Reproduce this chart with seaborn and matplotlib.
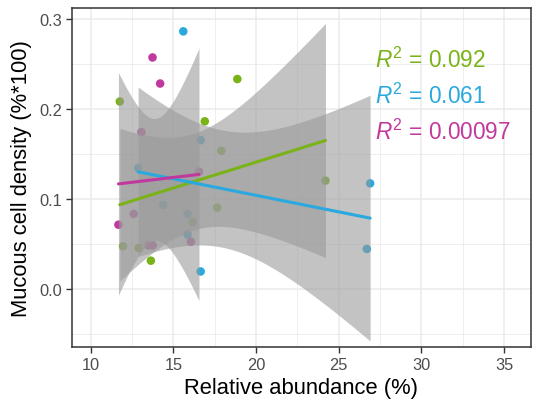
import numpy as np
import pandas as pd
import matplotlib
matplotlib.use("Agg")
import matplotlib.pyplot as plt
import seaborn as sns
from matplotlib.ticker import MultipleLocator

# ---- data ----
green_x = [11.76, 11.96, 12.9, 13.64, 16.16, 16.9, 17.65, 17.9, 18.87, 24.2]
green_y = [0.208, 0.047, 0.045, 0.031, 0.074, 0.186, 0.090, 0.153, 0.233, 0.120]
blue_x = [12.87, 14.38, 15.6, 15.86, 15.86, 16.65, 16.65, 26.7, 26.9]
blue_y = [0.134, 0.093, 0.286, 0.083, 0.060, 0.165, 0.019, 0.044, 0.117]
magenta_x = [11.68, 12.6, 13.07, 13.5, 13.75, 13.74, 14.2, 16.06, 16.55]
magenta_y = [0.071, 0.083, 0.174, 0.048, 0.048, 0.257, 0.228, 0.052, 0.130]
groups = ["green", "blue", "magenta"]
r2_labels = ["0.092", "0.061", "0.00097"]
x_ticks = [10, 15, 20, 25, 30, 35]
y_ticks = [0.0, 0.1, 0.2, 0.3]
x_title = "Relative abundance (%)"
y_title = "Mucous cell density (%*100)"

colors = {"green": "#7AB317", "blue": "#29A9DD", "magenta": "#C1399D"}
t975 = {7: 2.3646, 8: 2.3060}

df = pd.concat([
    pd.DataFrame({"x": green_x, "y": green_y, "g": "green"}),
    pd.DataFrame({"x": blue_x, "y": blue_y, "g": "blue"}),
    pd.DataFrame({"x": magenta_x, "y": magenta_y, "g": "magenta"}),
], ignore_index=True)

sns.set_theme(style="white")
plt.rcParams["font.family"] = ["Liberation Sans", "DejaVu Sans"]
plt.rcParams["mathtext.fontset"] = "custom"
plt.rcParams["mathtext.rm"] = "Liberation Sans"
plt.rcParams["mathtext.it"] = "Liberation Sans:italic"

fig = plt.figure(figsize=(5.33, 4.10), dpi=100)
ax = fig.add_axes([72 / 533, 1 - 348 / 410, (531 - 72) / 533, (348 - 9) / 410])

sns.scatterplot(data=df, x="x", y="y", hue="g", palette=colors, s=38,
                edgecolor="none", legend=False, ax=ax, zorder=2)

for g in groups:
    sub = df[df.g == g]
    x = sub.x.to_numpy(); y = sub.y.to_numpy(); n = len(x)
    b1, b0 = np.polyfit(x, y, 1)
    res = y - (b0 + b1 * x)
    s = np.sqrt((res ** 2).sum() / (n - 2))
    xs = np.linspace(x.min(), x.max(), 80)
    yh = b0 + b1 * xs
    se = s * np.sqrt(1 / n + (xs - x.mean()) ** 2 / ((x - x.mean()) ** 2).sum())
    ax.fill_between(xs, yh - t975[n - 2] * se, yh + t975[n - 2] * se,
                    color="#999999", alpha=0.58, linewidth=0, zorder=3)
for g in groups:
    sub = df[df.g == g]
    sns.regplot(data=sub, x="x", y="y", ci=None, scatter=False, ax=ax,
                line_kws=dict(color=colors[g], lw=2.2, zorder=4))

for i, (g, lab) in enumerate(zip(groups, r2_labels)):
    ax.text(27.2, 0.2555 - i * 0.0405, r"$R^2$ = " + lab, color=colors[g],
            fontsize=16.3, va="center", ha="left", zorder=5)

ax.set_xlim(8.87, 36.63)
ax.set_ylim(-0.065, 0.312)
ax.set_xticks(x_ticks)
ax.set_xticklabels([str(v) for v in x_ticks])
ax.set_yticks(y_ticks)
ax.set_yticklabels([f"{v:.1f}" for v in y_ticks])
ax.xaxis.set_minor_locator(MultipleLocator(2.5))
ax.yaxis.set_minor_locator(MultipleLocator(0.05))
ax.grid(which="major", color="#EBEBEB", lw=1.1, zorder=0)
ax.grid(which="minor", color="#EBEBEB", lw=0.6, zorder=0)
ax.set_axisbelow(True)
for sp in ax.spines.values():
    sp.set_color("#333333"); sp.set_linewidth(1.1); sp.set_visible(True)
ax.tick_params(which="major", direction="out", length=4, width=1.0, color="#333333",
               labelsize=11.8, labelcolor="#4D4D4D", pad=3, bottom=True, left=True)
ax.tick_params(which="minor", length=0)
ax.set_xlabel(x_title, fontsize=15.8, color="black", labelpad=4)
ax.set_ylabel(y_title, fontsize=15.8, color="black", labelpad=5)

fig.savefig("out.png", dpi=100)
